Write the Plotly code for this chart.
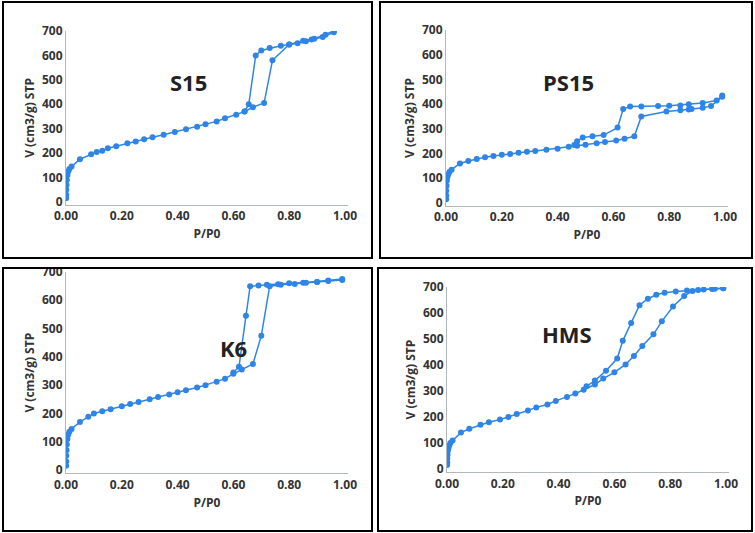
import plotly.graph_objects as go

BLUE = "rgb(47,133,230)"
FONT = "Open Sans"

S15_ADS_P = [0.0005, 0.001, 0.001, 0.002, 0.003, 0.005, 0.008, 0.012, 0.02, 0.05, 0.09, 0.11, 0.13, 0.15, 0.18, 0.22,
             0.25, 0.28, 0.31, 0.35, 0.39, 0.43, 0.47, 0.50, 0.54, 0.57, 0.61, 0.64, 0.67, 0.71, 0.74, 0.80, 0.83,
             0.86, 0.88, 0.92, 0.96]
S15_ADS_V = [15, 30, 50, 70, 90, 110, 125, 135, 145, 175, 195, 205, 210, 220, 228, 240, 248, 257, 265, 275, 287,
             298, 308, 318, 330, 343, 357, 370, 388, 405, 580, 645, 650, 658, 665, 675, 695]
S15_DES_P = [0.96, 0.93, 0.89, 0.85, 0.80, 0.77, 0.73, 0.70, 0.68, 0.655, 0.64]
S15_DES_V = [700, 685, 668, 660, 645, 640, 630, 620, 600, 400, 370]

PS15_ADS_P = [0.0005, 0.001, 0.001, 0.002, 0.003, 0.005, 0.008, 0.012, 0.02, 0.05, 0.08, 0.11, 0.14, 0.17, 0.20,
              0.23, 0.26, 0.29, 0.32, 0.36, 0.40, 0.44, 0.47, 0.50, 0.54, 0.57, 0.61, 0.64, 0.675, 0.70, 0.79, 0.84,
              0.87, 0.88, 0.92, 0.95, 0.99]
PS15_ADS_V = [15, 30, 50, 70, 90, 105, 115, 125, 135, 160, 170, 178, 185, 190, 195, 198, 203, 207, 210, 215, 220,
              228, 232, 236, 242, 247, 253, 260, 270, 350, 370, 375, 378, 380, 385, 392, 430]
PS15_DES_P = [0.99, 0.97, 0.92, 0.87, 0.84, 0.80, 0.76, 0.70, 0.66, 0.635, 0.615, 0.565, 0.525, 0.49, 0.47, 0.46]
PS15_DES_V = [435, 415, 405, 400, 395, 393, 392, 390, 390, 380, 305, 275, 270, 265, 250, 235]

K6_ADS_P = [0.0005, 0.001, 0.001, 0.002, 0.003, 0.005, 0.008, 0.012, 0.02, 0.05, 0.08, 0.10, 0.13, 0.16, 0.20,
            0.23, 0.26, 0.30, 0.33, 0.37, 0.40, 0.43, 0.47, 0.50, 0.54, 0.57, 0.60, 0.63, 0.67, 0.70, 0.73, 0.77,
            0.82, 0.86, 0.90, 0.94, 0.99]
K6_ADS_V = [15, 30, 50, 70, 90, 110, 125, 135, 145, 170, 188, 200, 208, 215, 225, 233, 240, 250, 258, 267, 275,
            282, 292, 300, 312, 323, 340, 355, 375, 475, 650, 655, 658, 662, 665, 668, 672]
K6_DES_P = [0.99, 0.94, 0.90, 0.85, 0.80, 0.76, 0.72, 0.69, 0.66, 0.645, 0.62, 0.60]
K6_DES_V = [675, 670, 665, 662, 660, 657, 655, 652, 650, 545, 365, 345]

HMS_ADS_P = [0.0005, 0.001, 0.001, 0.002, 0.003, 0.005, 0.008, 0.012, 0.02, 0.05, 0.08, 0.12, 0.15, 0.19, 0.22,
             0.25, 0.29, 0.32, 0.36, 0.39, 0.43, 0.46, 0.49, 0.53, 0.56, 0.60, 0.64, 0.67, 0.70, 0.74, 0.77, 0.81,
             0.85, 0.88, 0.92, 0.96, 0.99]
HMS_ADS_V = [15, 25, 40, 55, 70, 80, 90, 100, 110, 140, 155, 170, 180, 190, 200, 212, 225, 237, 248, 262, 277,
             290, 305, 325, 348, 372, 402, 435, 473, 518, 568, 625, 665, 685, 690, 693, 695]
HMS_DES_P = [0.99, 0.95, 0.90, 0.86, 0.82, 0.78, 0.75, 0.72, 0.69, 0.66, 0.63, 0.61, 0.57, 0.53, 0.50]
HMS_DES_V = [695, 692, 688, 687, 683, 678, 670, 655, 630, 562, 493, 425, 378, 340, 318]

PANELS = [
    ("S15", S15_ADS_P, S15_ADS_V, S15_DES_P, S15_DES_V),
    ("PS15", PS15_ADS_P, PS15_ADS_V, PS15_DES_P, PS15_DES_V),
    ("K6", K6_ADS_P, K6_ADS_V, K6_DES_P, K6_DES_V),
    ("HMS", HMS_ADS_P, HMS_ADS_V, HMS_DES_P, HMS_DES_V),
]

W, H = 755, 533
Y_LO = -12
# pixel geometry per panel: frame box, plot area (x0 at P=0, x1 at P=1, y at V=0, y at V=700), label pos
GEOM = [
    dict(box=(3, 2, 372, 258), x0=66, x1=345, yb=202, yt=31, lab=(0.44, 490)),
    dict(box=(380, 2, 752, 258), x0=446, x1=725, yb=203, yt=30, lab=(0.44, 490)),
    dict(box=(3, 268, 372, 531), x0=66, x1=345, yb=470, yt=272, lab=(0.6, 430)),
    dict(box=(378, 268, 752, 531), x0=447, x1=726, yb=469, yt=287, lab=(0.43, 520)),
]

TICK_FONT = dict(family=FONT, size=12, color="#333", weight="bold")
TITLE_FONT = dict(family=FONT, size=12, color="#333", weight="bold")

fig = go.Figure()
shapes, annotations = [], []
for i, ((name, ap, av, dp, dv), g) in enumerate(zip(PANELS, GEOM)):
    n = i + 1
    xa, ya = f"x{n}", f"y{n}"
    for px, vy in ((ap, av), (dp, dv)):
        fig.add_trace(go.Scatter(
            x=px, y=vy, mode="lines+markers", xaxis=xa, yaxis=ya,
            line=dict(color=BLUE, width=1.5), marker=dict(color=BLUE, size=6),
            showlegend=False, hoverinfo="skip",
        ))
    ppv = (g["yb"] - g["yt"]) / 700.0
    xd = [g["x0"] / W, (g["x0"] + (g["x1"] - g["x0"]) * 1.01) / W]
    yd = [1 - (g["yb"] - Y_LO * ppv) / H, 1 - g["yt"] / H]
    axis_common = dict(showgrid=False, zeroline=False, showline=True, linecolor="#b0b8bc",
                       ticks="", tickfont=TICK_FONT, automargin=False)
    fig.layout[f"xaxis{n}"] = dict(axis_common, domain=xd, range=[0, 1.01], anchor=ya,
                                   tickvals=[0, 0.2, 0.4, 0.6, 0.8, 1.0], tickformat=".2f",
                                   title=dict(text="P/P0", font=TITLE_FONT, standoff=6))
    fig.layout[f"yaxis{n}"] = dict(axis_common, domain=yd, range=[Y_LO, 700], anchor=xa,
                                   tickvals=[0, 100, 200, 300, 400, 500, 600, 700],
                                   title=dict(text="V (cm3/g) STP", font=TITLE_FONT, standoff=4))
    bx0, by0, bx1, by1 = g["box"]
    shapes.append(dict(type="rect", xref="paper", yref="paper", x0=bx0 / W, x1=bx1 / W,
                       y0=1 - by1 / H, y1=1 - by0 / H, line=dict(color="black", width=2)))
    annotations.append(dict(text=f"<b>{name}</b>", x=g["lab"][0], y=g["lab"][1], xref=xa, yref=ya,
                            showarrow=False, font=dict(family=FONT, size=22, color="#222")))

fig.update_layout(width=W, height=H, margin=dict(l=0, r=0, t=0, b=0, autoexpand=False),
                  paper_bgcolor="white", plot_bgcolor="white",
                  shapes=shapes, annotations=annotations,
                  font=dict(family=FONT, color="#333"))
fig.write_html("out.html", config={"displayModeBar": False},
               post_script="document.body.style.margin='0';document.body.style.overflow='hidden';")
